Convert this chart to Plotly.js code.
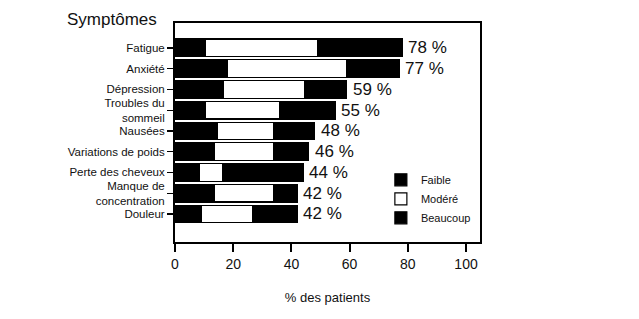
<!DOCTYPE html>
<html><head><meta charset="utf-8">
<script src="https://cdn.plot.ly/plotly-3.0.1.min.js"></script>
<style>html,body{margin:0;padding:0;background:#fff}#c{width:639px;height:319px}</style>
</head><body><div id="c"></div>
<script>
const categories = ["Fatigue","Anxiété","Dépression","Troubles du<br>sommeil","Nausées","Variations de poids","Perte des cheveux","Manque de<br>concentration","Douleur"];
const faible   = [10.5, 18, 16.5, 10.5, 14.5, 13.5, 8.5, 13.5, 9];
const modere   = [38.5, 41, 28, 25.5, 19.5, 20.5, 8, 20.5, 17.5];
const beaucoup = [29, 18, 14.5, 19, 14, 12, 27.5, 8, 15.5];
const totals   = [78, 77, 59, 55, 48, 46, 44, 42, 42];
const totalLabels = totals.map(v => v + " %");
const xTicks = [0, 20, 40, 60, 80, 100];

const lineStyle = {color: "#000", width: 1.2};
const traces = [
  {type: "bar", orientation: "h", name: "Faible", y: categories, x: faible, marker: {color: "#000", line: lineStyle}},
  {type: "bar", orientation: "h", name: "Modéré", y: categories, x: modere, marker: {color: "#fff", line: lineStyle}},
  {type: "bar", orientation: "h", name: "Beaucoup", y: categories, x: beaucoup, marker: {color: "#000", line: lineStyle}}
];

const annotations = categories.map((c, i) => ({
  x: faible[i] + modere[i] + beaucoup[i], y: c, xref: "x", yref: "y",
  text: totalLabels[i], showarrow: false, xanchor: "left", xshift: 4,
  font: {family: "Arial", size: 17, color: "#111"}
}));
annotations.push({
  xref: "paper", yref: "paper", x: -0.362, y: 1.0, xanchor: "left", yanchor: "bottom", yshift: -8,
  text: "Symptômes", showarrow: false, font: {family: "Arial", size: 17, color: "#111"}
});

const layout = {
  width: 639, height: 319,
  margin: {l: 175, r: 159, t: 23, b: 77},
  paper_bgcolor: "#fff", plot_bgcolor: "#fff",
  barmode: "stack", bargap: 0.15,
  font: {family: "Arial", color: "#000"},
  xaxis: {
    range: [0, 104.8], tickvals: xTicks, ticktext: xTicks.map(String),
    showgrid: false, zeroline: false, showline: true, mirror: true, linecolor: "#000", linewidth: 2,
    ticks: "outside", ticklen: 8, tickcolor: "#000", tickwidth: 2,
    tickfont: {family: "Arial", size: 14, color: "#111"},
    title: {text: "% des patients", font: {family: "Arial", size: 13, color: "#111"}, standoff: 22}
  },
  yaxis: {
    type: "category", range: [9.35, -1.2],
    showgrid: false, zeroline: false, showline: true, mirror: true, linecolor: "#000", linewidth: 2,
    ticks: "outside", ticklen: 6, tickcolor: "#000", tickwidth: 1.2,
    tickfont: {family: "Arial", size: 11.5, color: "#111"}
  },
  legend: {
    x: 0.675, y: 0.35, xanchor: "left", yanchor: "top",
    bgcolor: "rgba(0,0,0,0)", traceorder: "normal",
    font: {family: "Arial", size: 11, color: "#111"},
    itemwidth: 30, tracegroupgap: 0
  },
  showlegend: true,
  annotations: annotations
};
Plotly.newPlot("c", traces, layout, {displayModeBar: false, staticPlot: true});
</script></body></html>
